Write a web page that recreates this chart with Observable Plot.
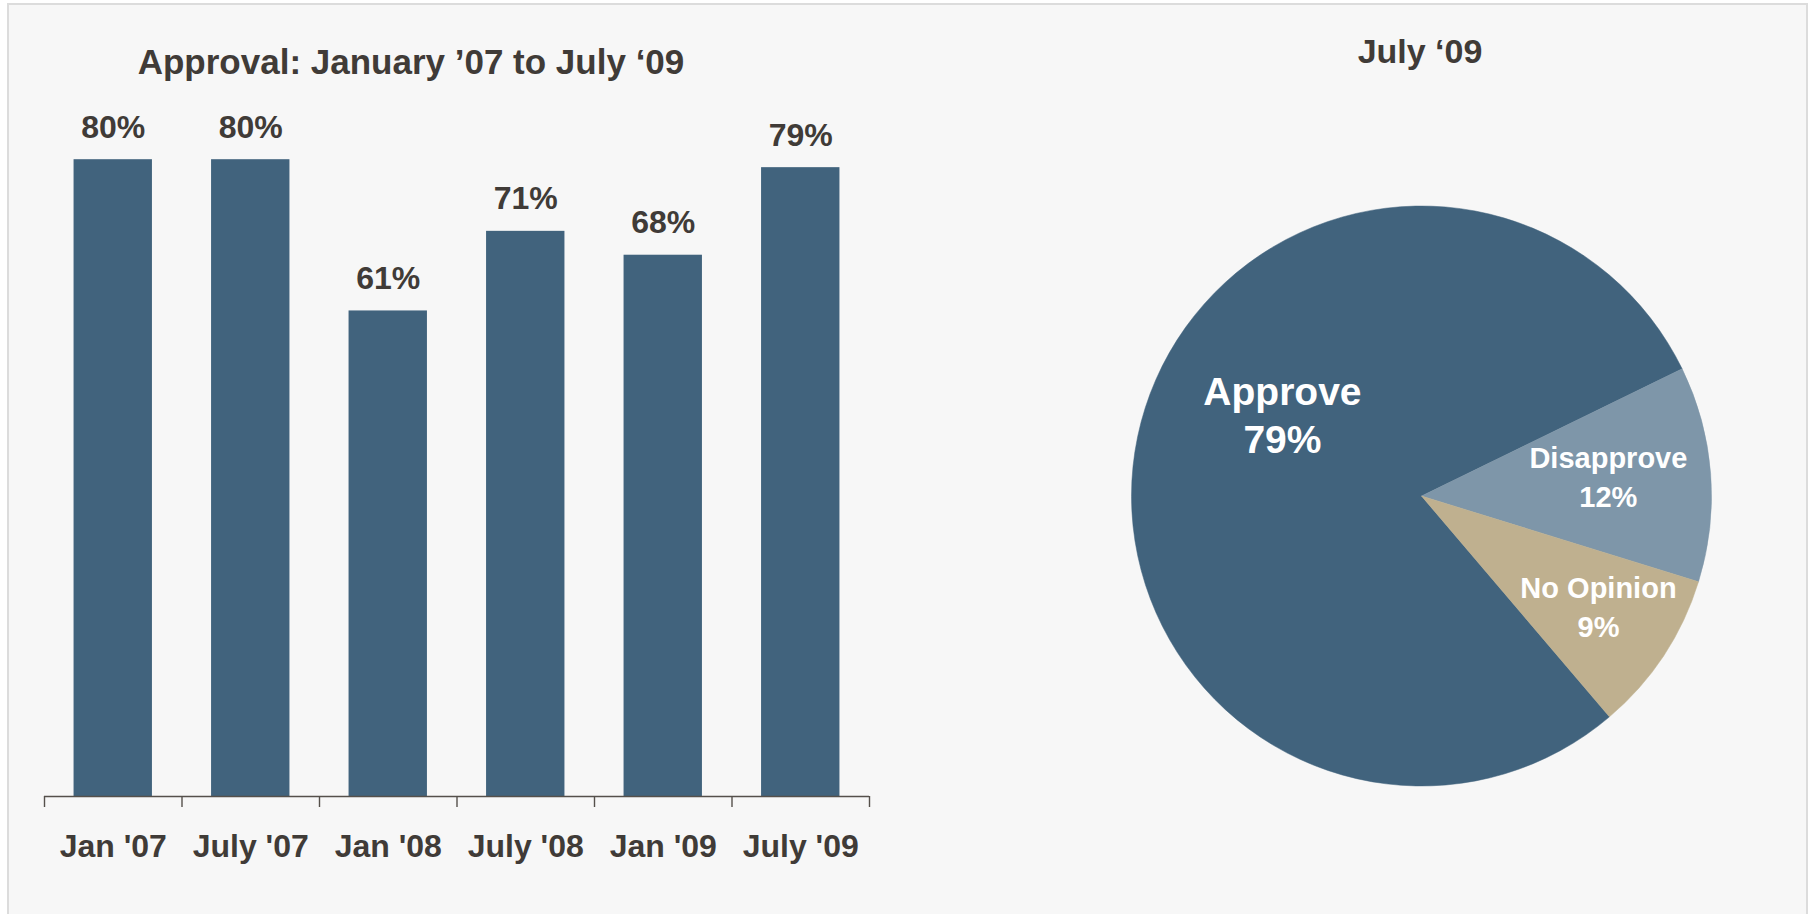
<!DOCTYPE html>
<html>
<head>
<meta charset="utf-8">
<script src="https://cdn.jsdelivr.net/npm/d3@7"></script>
<script src="https://cdn.jsdelivr.net/npm/@observablehq/plot@0.6"></script>
<style>
  html, body { margin: 0; padding: 0; background: #ffffff; width: 1810px; height: 914px; overflow: hidden; }
  body { position: relative; font-family: "Liberation Sans", Arial, sans-serif; }
  #frame { position: absolute; left: 7px; top: 3px; width: 1801px; height: 1000px; box-sizing: border-box;
           border: 2px solid #dcdcdc; background: #f7f7f7; }
  .title { position: absolute; font-weight: bold; color: #403b37; text-align: center; white-space: nowrap; line-height: 1; }
  #barTitle { left: 111px; width: 600px; top: 44px; font-size: 35px; }
  #pieTitle { left: 1220px; width: 400px; top: 34px; font-size: 34px; }
  #bars { position: absolute; left: 0; top: 0; }
  #pie { position: absolute; left: 905px; top: 0; }
</style>
</head>
<body>
<div id="frame"></div>
<div id="bars"></div>
<div id="pie"></div>
<div class="title" id="barTitle"></div>
<div class="title" id="pieTitle"></div>
<script>
// ---- data ----
const barTitle = "Approval: January \u201907 to July \u201809";
const periods = ["Jan '07", "July '07", "Jan '08", "July '08", "Jan '09", "July '09"];
const approval = [80, 80, 61, 71, 68, 79];

const pieTitle = "July \u201809";
const pieLabels = ["Approve", "Disapprove", "No Opinion"];
const pieValues = [79, 12, 9];

// ---- styles / layout ----
const textColor = "#403b37";
const axisColor = "#55504b";
const barColor = "#41637d";
const pieColors = ["#41637d", "#7e96a9", "#bfb08f"];
const font = "'Liberation Sans', Arial, sans-serif";

document.getElementById("barTitle").textContent = barTitle;
document.getElementById("pieTitle").textContent = pieTitle;

// ---- bar chart ----
const barData = periods.map((p, i) => ({period: p, value: approval[i]}));
const barW = 905, barH = 914, mL = 44, mR = 36;
const step = (barW - mL - mR) / periods.length;

const bars = Plot.plot({
  width: barW,
  height: barH,
  marginLeft: mL,
  marginRight: mR,
  marginTop: 0,
  marginBottom: 118,
  style: {background: "transparent", fontFamily: font, fontWeight: "bold", fontSize: "32px", color: textColor, overflow: "visible"},
  x: {type: "band", domain: periods, paddingInner: 0.43, paddingOuter: 0.215, round: false, label: null},
  y: {domain: [0, 100], axis: null},
  marks: [
    Plot.barY(barData, {x: "period", y: "value", fill: barColor}),
    Plot.text(barData, {x: "period", y: "value", text: d => d.value + "%", dy: -22, lineAnchor: "bottom",
      fontSize: 32, fontWeight: "bold", fill: textColor}),
    Plot.ruleY([0], {stroke: axisColor, strokeWidth: 1.6}),
    Plot.ruleX(periods, {x: d => d, y1: 0, y2: 0, insetBottom: -11, dx: -step / 2, stroke: axisColor, strokeWidth: 1.4}),
    Plot.ruleX(periods.slice(-1), {x: d => d, y1: 0, y2: 0, insetBottom: -11, dx: step / 2, stroke: axisColor, strokeWidth: 1.4}),
    Plot.axisX({tickSize: 0, tickPadding: 38, fontSize: 32, fontWeight: "bold", fill: textColor, label: null})
  ]
});
document.getElementById("bars").append(bars);

// ---- pie chart ----
const pieData = pieLabels.map((l, i) => ({label: l, value: pieValues[i], color: pieColors[i]}));
const startAngle = 139.6 * Math.PI / 180;
const arcs = d3.pie().sort(null).value(d => d.value)
  .startAngle(startAngle).endAngle(startAngle + 2 * Math.PI)(pieData);

// label placement: radius fraction and angular nudge (degrees) relative to slice mid-angle
const labelPlacement = {
  "Approve": {r: 0.554, nudge: 17.9},
  "Disapprove": {r: 0.646, nudge: -1.4},
  "No Opinion": {r: 0.72, nudge: -1.1}
};
const labelData = arcs.map(a => {
  const p = labelPlacement[a.data.label];
  const t = (a.startAngle + a.endAngle) / 2 + p.nudge * Math.PI / 180;
  return {label: a.data.label, text: a.data.label + "\n" + a.data.value + "%", x: p.r * Math.sin(t), y: p.r * Math.cos(t)};
});

function pieSlices(index, scales) {
  const cx = scales.x(0), cy = scales.y(0), r = scales.x(1) - scales.x(0);
  const arcGen = d3.arc().innerRadius(0).outerRadius(r);
  const g = d3.create("svg:g").attr("transform", `translate(${cx},${cy})`);
  g.selectAll("path").data(arcs).join("path")
    .attr("d", arcGen)
    .attr("fill", d => d.data.color)
    .attr("stroke", d => d.data.color)
    .attr("stroke-width", 0.5);
  return g.node();
}

const pie = Plot.plot({
  width: 905,
  height: 914,
  marginLeft: 226.5,
  marginRight: 98.5,
  marginTop: 206,
  marginBottom: 128,
  style: {background: "transparent", fontFamily: font, fontWeight: "bold", color: textColor, overflow: "visible"},
  x: {domain: [-1, 1], axis: null},
  y: {domain: [-1, 1], axis: null},
  marks: [
    pieSlices,
    Plot.text(labelData.filter(d => d.label === "Approve"), {x: "x", y: "y", text: "text", fill: "white", dy: -3,
      fontSize: 39, fontWeight: "bold", lineHeight: 1.23, textAnchor: "middle"}),
    Plot.text(labelData.filter(d => d.label !== "Approve"), {x: "x", y: "y", text: "text", fill: "white", dy: -3,
      fontSize: 29, fontWeight: "bold", lineHeight: 1.35, textAnchor: "middle"})
  ]
});
document.getElementById("pie").append(pie);
</script>
</body>
</html>
